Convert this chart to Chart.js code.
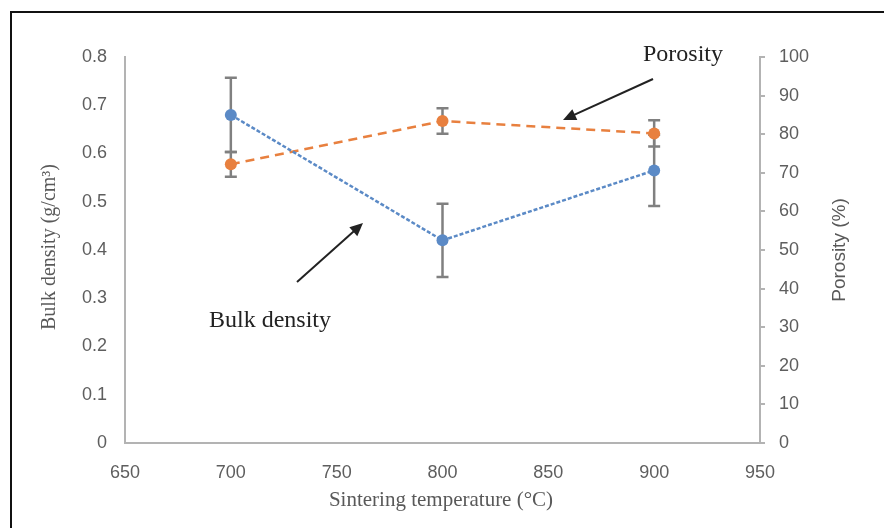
<!DOCTYPE html>
<html>
<head>
<meta charset="utf-8">
<script src="https://cdn.jsdelivr.net/npm/chart.js@4"></script>
<style>
  html, body { margin: 0; padding: 0; background: #fff; }
  #wrap { width: 884px; height: 528px; position: relative; }
</style>
</head>
<body>
<div id="wrap"><canvas id="chart" width="884" height="528"></canvas></div>
<script>
// Data
const temps = [700, 800, 900];
const bulkDensity = [0.68, 0.42, 0.565];
const bulkDensityErr = [0.077, 0.076, 0.074];
const porosity = [72.2, 83.4, 80.2];
const porosityErr = [3.2, 3.3, 3.4];

const xTicks = [650, 700, 750, 800, 850, 900, 950];

const BLUE = '#5b8ac6';
const ORANGE = '#e8803f';
const AXIS = '#b3b3b3';
const TICK_TXT = '#5e5e5e';
const ERR = '#808080';

// error bars, drawn under the markers
const errorBars = {
    id: 'errorBars',
    beforeDatasetsDraw(chart) {
        const ctx = chart.ctx;
        const x = chart.scales.x;
        const sets = [
            { scale: chart.scales.y, vals: bulkDensity, errs: bulkDensityErr },
            { scale: chart.scales.y1, vals: porosity, errs: porosityErr }
        ];
        ctx.save();
        ctx.strokeStyle = ERR;
        ctx.lineWidth = 2.5;
        sets.forEach(s => {
            temps.forEach((t, i) => {
                const px = x.getPixelForValue(t);
                const top = s.scale.getPixelForValue(s.vals[i] + s.errs[i]);
                const bot = s.scale.getPixelForValue(s.vals[i] - s.errs[i]);
                ctx.beginPath();
                ctx.moveTo(px, top); ctx.lineTo(px, bot);
                ctx.moveTo(px - 6, top); ctx.lineTo(px + 6, top);
                ctx.moveTo(px - 6, bot); ctx.lineTo(px + 6, bot);
                ctx.stroke();
            });
        });
        ctx.restore();
    }
};

function arrow(ctx, x1, y1, x2, y2) {
    const a = Math.atan2(y2 - y1, x2 - x1);
    const head = 13, w = 6;
    ctx.beginPath();
    ctx.moveTo(x1, y1);
    ctx.lineTo(x2 - Math.cos(a) * head * 0.8, y2 - Math.sin(a) * head * 0.8);
    ctx.stroke();
    ctx.beginPath();
    ctx.moveTo(x2, y2);
    ctx.lineTo(x2 - Math.cos(a) * head + Math.sin(a) * w, y2 - Math.sin(a) * head - Math.cos(a) * w);
    ctx.lineTo(x2 - Math.cos(a) * head - Math.sin(a) * w, y2 - Math.sin(a) * head + Math.cos(a) * w);
    ctx.closePath();
    ctx.fill();
}

// titles, frame and the two call-outs
const decorations = {
    id: 'decorations',
    afterDraw(chart) {
        const ctx = chart.ctx;
        ctx.save();
        // frame
        ctx.strokeStyle = '#111';
        ctx.lineWidth = 2;
        ctx.beginPath();
        ctx.moveTo(11, 530); ctx.lineTo(11, 12); ctx.lineTo(886, 12);
        ctx.stroke();

        ctx.textAlign = 'center';
        ctx.textBaseline = 'middle';
        ctx.fillStyle = '#595959';

        ctx.font = '21px "Liberation Serif", "Times New Roman", serif';
        ctx.fillText('Sintering temperature (°C)', 441, 500);

        ctx.save();
        ctx.translate(50, 247);
        ctx.rotate(-Math.PI / 2);
        ctx.font = '20px "Liberation Serif", "Times New Roman", serif';
        ctx.fillText('Bulk density (g/cm³)', 0, 0);
        ctx.restore();

        ctx.save();
        ctx.translate(840, 250);
        ctx.rotate(-Math.PI / 2);
        ctx.font = '19px "Liberation Sans", Arial, sans-serif';
        ctx.fillText('Porosity (%)', 0, 0);
        ctx.restore();

        ctx.fillStyle = '#222';
        ctx.font = '24px "Liberation Serif", "Times New Roman", serif';
        ctx.fillText('Porosity', 683, 55);
        ctx.fillText('Bulk density', 270, 321);

        ctx.strokeStyle = '#222';
        ctx.fillStyle = '#222';
        ctx.lineWidth = 2;
        arrow(ctx, 653, 79, 563, 120);
        arrow(ctx, 297, 282, 363, 223);
        ctx.restore();
    }
};

const tickFont = { family: '"Liberation Sans", Arial, sans-serif', size: 18 };

new Chart(document.getElementById('chart'), {
    type: 'line',
    data: {
        datasets: [
            {
                label: 'Bulk density',
                data: temps.map((t, i) => ({ x: t, y: bulkDensity[i] })),
                yAxisID: 'y',
                borderColor: BLUE,
                backgroundColor: BLUE,
                borderWidth: 2.5,
                borderDash: [4, 2],
                pointRadius: 6,
                pointBorderWidth: 0,
                tension: 0
            },
            {
                label: 'Porosity',
                data: temps.map((t, i) => ({ x: t, y: porosity[i] })),
                yAxisID: 'y1',
                borderColor: ORANGE,
                backgroundColor: ORANGE,
                borderWidth: 2.5,
                borderDash: [9, 6],
                pointRadius: 6,
                pointBorderWidth: 0,
                tension: 0
            }
        ]
    },
    options: {
        responsive: false,
        animation: false,
        layout: { padding: { top: 57, left: 0, right: 0, bottom: 0 } },
        plugins: {
            legend: { display: false },
            tooltip: { enabled: false }
        },
        scales: {
            x: {
                type: 'linear',
                min: 650,
                max: 950,
                afterBuildTicks: s => { s.ticks = xTicks.map(v => ({ value: v })); },
                afterFit: s => { s.height = 85; },
                grid: { display: false, drawTicks: false },
                border: { display: true, color: AXIS, width: 2 },
                ticks: { font: tickFont, color: TICK_TXT, padding: 19, maxRotation: 0 }
            },
            y: {
                position: 'left',
                min: 0,
                max: 0.8,
                afterFit: s => { s.width = 125; },
                grid: { display: false, drawTicks: false },
                border: { display: true, color: AXIS, width: 2 },
                ticks: { stepSize: 0.1, font: tickFont, color: TICK_TXT, padding: 18,
                    callback: v => Math.round(v * 10) / 10 }
            },
            y1: {
                position: 'right',
                min: 0,
                max: 100,
                afterFit: s => { s.width = 124; },
                grid: { display: true, drawOnChartArea: false, drawTicks: true, tickLength: 5, color: AXIS, lineWidth: 2 },
                border: { display: true, color: AXIS, width: 2 },
                ticks: { stepSize: 10, font: tickFont, color: TICK_TXT, padding: 14 }
            }
        }
    },
    plugins: [errorBars, decorations]
});
</script>
</body>
</html>
